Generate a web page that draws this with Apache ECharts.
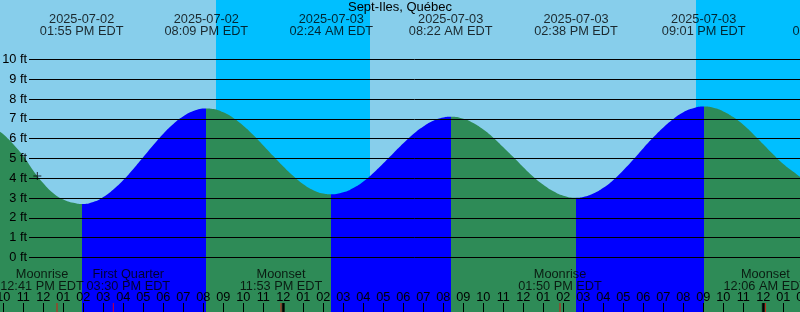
<!DOCTYPE html>
<html><head><meta charset="utf-8">
<script src="https://cdn.jsdelivr.net/npm/echarts@6/dist/echarts.min.js"></script>
<style>html,body{margin:0;padding:0;background:#87CEEB}#c{width:800px;height:312px}</style>
</head><body><div id="c"></div>
<script>
const stationName = 'Sept-Iles, Québec';
const baseTime = '2025-07-02 10:00';

const tideTimes = [
 '2025-07-02 09:50','2025-07-02 10:00','2025-07-02 10:30','2025-07-02 11:00','2025-07-02 11:30',
 '2025-07-02 12:00','2025-07-02 12:30','2025-07-02 13:00','2025-07-02 13:30','2025-07-02 13:55',
 '2025-07-02 14:30','2025-07-02 15:00','2025-07-02 15:30','2025-07-02 16:00','2025-07-02 16:30',
 '2025-07-02 17:00','2025-07-02 17:30','2025-07-02 18:00','2025-07-02 18:30','2025-07-02 19:00',
 '2025-07-02 19:30','2025-07-02 20:09','2025-07-02 20:30','2025-07-02 21:00','2025-07-02 21:30',
 '2025-07-02 22:00','2025-07-02 22:30','2025-07-02 23:00','2025-07-02 23:30','2025-07-03 00:00',
 '2025-07-03 00:30','2025-07-03 01:00','2025-07-03 01:30','2025-07-03 02:00','2025-07-03 02:24',
 '2025-07-03 03:00','2025-07-03 03:30','2025-07-03 04:00','2025-07-03 04:30','2025-07-03 05:00',
 '2025-07-03 05:30','2025-07-03 06:00','2025-07-03 06:30','2025-07-03 07:00','2025-07-03 07:30',
 '2025-07-03 08:00','2025-07-03 08:22','2025-07-03 09:00','2025-07-03 09:30','2025-07-03 10:00',
 '2025-07-03 10:30','2025-07-03 11:00','2025-07-03 11:30','2025-07-03 12:00','2025-07-03 12:30',
 '2025-07-03 13:00','2025-07-03 13:30','2025-07-03 14:00','2025-07-03 14:38','2025-07-03 15:00',
 '2025-07-03 15:30','2025-07-03 16:00','2025-07-03 16:30','2025-07-03 17:00','2025-07-03 17:30',
 '2025-07-03 18:00','2025-07-03 18:30','2025-07-03 19:00','2025-07-03 19:30','2025-07-03 20:00',
 '2025-07-03 20:30','2025-07-03 21:01','2025-07-03 21:30','2025-07-03 22:00','2025-07-03 22:30',
 '2025-07-03 23:00','2025-07-03 23:30','2025-07-04 00:00','2025-07-04 00:30','2025-07-04 01:00',
 '2025-07-04 01:30','2025-07-04 02:00'
];
const tideFeet = [
 6.35,6.22,5.72,5.12,4.38,
 3.75,3.25,2.93,2.76,2.70,
 2.80,3.05,3.43,3.91,4.47,
 5.07,5.68,6.25,6.74,7.13,
 7.40,7.53,7.50,7.33,7.05,
 6.66,6.19,5.66,5.12,4.59,
 4.11,3.70,3.40,3.23,3.19,
 3.29,3.51,3.84,4.27,4.76,
 5.27,5.77,6.24,6.62,6.91,
 7.07,7.11,7.01,6.79,6.46,
 6.05,5.57,5.07,4.56,4.08,
 3.67,3.34,3.12,3.02,3.06,
 3.23,3.52,3.92,4.41,4.95,
 5.52,6.07,6.57,7.00,7.34,
 7.54,7.62,7.56,7.38,7.09,
 6.70,6.23,5.72,5.20,4.72,
 4.33,3.95
];

const extremeTimes = ['2025-07-02 13:55','2025-07-02 20:09','2025-07-03 02:24','2025-07-03 08:22','2025-07-03 14:38','2025-07-03 21:01','2025-07-04 03:33'];
const extremeKinds = ['low','high','low','high','low','high','low'];

const nightStarts = ['2025-07-02 20:38','2025-07-03 20:38'];
const nightEnds   = ['2025-07-03 04:20','2025-07-04 04:20'];

const moonTimes = ['2025-07-02 12:41','2025-07-02 15:30','2025-07-02 23:53','2025-07-03 13:50','2025-07-04 00:06'];
const moonNames = ['Moonrise','First Quarter','Moonset','Moonrise','Moonset'];

const midnightTimes = ['2025-07-03 00:00','2025-07-04 00:00'];
const nowMarker = ['2025-07-02 11:42', 4.12];

const heightMin = 0, heightMax = 10;

// ---- helpers ----
const t0 = Date.parse(baseTime.replace(' ', 'T'));
const toH = s => (Date.parse(s.replace(' ', 'T')) - t0) / 3600000;
const pad = n => (n < 10 ? '0' : '') + n;
const fmtTime = s => {
  const t = s.split(' ')[1].split(':').map(Number);
  const ap = t[0] >= 12 ? 'PM' : 'AM';
  const h12 = (t[0] % 12) || 12;
  return pad(h12) + ':' + pad(t[1]) + ' ' + ap + ' EDT';
};
const baseHour = Number(baseTime.split(' ')[1].split(':')[0]);

const X_MIN = -1, X_MAX = 41;
const Y_MIN = -2.7525, Y_MAX = 13.005;

const GREEN = '#2E8B57', BLUE = '#0000FF';
const FONT = 'Liberation Sans';
const FS = 12.75;

const exH = extremeTimes.map(toH);
const pieces = [];
pieces.push({ lt: exH[0], color: extremeKinds[0] === 'low' ? GREEN : BLUE });
for (let i = 1; i < exH.length; i++) {
  pieces.push({ gte: exH[i - 1], lt: exH[i], color: extremeKinds[i] === 'low' ? GREEN : BLUE });
}
pieces.push({ gte: exH[exH.length - 1], color: extremeKinds[exH.length - 1] === 'low' ? BLUE : GREEN });

const tideData = tideTimes.map((t, i) => [toH(t), tideFeet[i]]);
const nightAreas = nightStarts.map((s, i) => [{ xAxis: toH(s) }, { xAxis: toH(nightEnds[i]) }]);

const moonOffsets = [-15, 15, 0, 0, 0];

const chart = echarts.init(document.getElementById('c'), null, { renderer: 'canvas' });
chart.setOption({
  animation: false,
  backgroundColor: '#87CEEB',
  title: {
    text: stationName, left: 'center', top: 1, padding: 0,
    textStyle: { fontFamily: FONT, fontSize: 13, fontWeight: 'normal', color: '#000', lineHeight: 13 }
  },
  grid: [
    { left: -16.667, right: -23.333, top: 0, bottom: 0, containLabel: false, outerBoundsMode: 'none' },
    { left: 29, right: 0, top: 59.5, bottom: 54.5, containLabel: false, outerBoundsMode: 'none' }
  ],
  xAxis: [
    {
      type: 'value', gridIndex: 0, min: X_MIN, max: X_MAX, interval: 1, z: 10, position: 'bottom',
      axisLine: { show: false, onZero: false },
      splitLine: { show: false },
      axisTick: { show: true, inside: true, length: 9, lineStyle: { color: '#000', width: 1 } },
      axisLabel: {
        show: true, inside: true, margin: 8, interval: 0,
        fontFamily: FONT, fontSize: FS, color: '#000',
        formatter: v => { const hod = (((baseHour + v) % 24) + 24) % 24; return pad((hod % 12) || 12); }
      }
    },
    { type: 'value', gridIndex: 1, min: 0, max: 1, show: false, axisLine: { onZero: false } }
  ],
  yAxis: [
    { type: 'value', gridIndex: 0, min: Y_MIN, max: Y_MAX, show: false, axisLine: { onZero: false } },
    {
      type: 'value', gridIndex: 1, min: heightMin, max: heightMax, interval: 1, z: 10,
      axisLine: { show: false, onZero: false }, axisTick: { show: false },
      splitLine: { show: true, lineStyle: { color: '#000', width: 1 } },
      axisLabel: { margin: 2, fontFamily: FONT, fontSize: FS, color: '#000', formatter: '{value} ft' }
    }
  ],
  visualMap: {
    type: 'piecewise', show: false, dimension: 0, seriesIndex: 1, pieces: pieces
  },
  series: [
    {
      type: 'line', xAxisIndex: 0, yAxisIndex: 0, data: [], z: 1, silent: true,
      markArea: { silent: true, itemStyle: { color: '#00BFFF', opacity: 1 }, data: nightAreas }
    },
    {
      type: 'line', xAxisIndex: 0, yAxisIndex: 0, z: 2, data: tideData,
      smooth: true, symbol: 'none', silent: true,
      lineStyle: { width: 0, opacity: 0 },
      areaStyle: { origin: 'start', opacity: 1 }
    },
    {
      type: 'scatter', xAxisIndex: 0, yAxisIndex: 0, z: 10, clip: false, silent: true,
      symbolSize: 1, itemStyle: { color: 'rgba(0,0,0,0)' },
      data: extremeTimes.map(t => ({ value: [toH(t), Y_MAX], name: t })),
      label: {
        show: true, position: 'inside', offset: [0, 25.25],
        fontFamily: FONT, fontSize: FS, color: '#000', lineHeight: 12, align: 'center',
        formatter: p => p.name.split(' ')[0] + '\n' + fmtTime(p.name)
      }
    },
    {
      type: 'scatter', xAxisIndex: 0, yAxisIndex: 0, z: 10, clip: false, silent: true,
      symbol: 'rect', symbolSize: [1, 9], symbolOffset: [0, -4.5], itemStyle: { color: '#FF0000' },
      data: moonTimes.map((t, i) => ({
        value: [toH(t), Y_MIN], name: moonNames[i] + '\n' + fmtTime(t),
        label: { offset: [moonOffsets[i], -27] }
      })),
      label: {
        show: true, position: 'inside',
        fontFamily: FONT, fontSize: FS, color: '#000', lineHeight: 12.5, align: 'center',
        formatter: p => p.name
      }
    },
    {
      type: 'scatter', xAxisIndex: 0, yAxisIndex: 0, z: 11, silent: true,
      symbol: 'rect', symbolSize: [3, 9], symbolOffset: [0, -4.5], itemStyle: { color: '#000' },
      data: midnightTimes.map(t => [toH(t), Y_MIN])
    },
    {
      type: 'scatter', xAxisIndex: 0, yAxisIndex: 0, z: 11, silent: true,
      symbol: 'path://M3.5,0h1v8h-1z M0,3.5h8v1h-8z', symbolSize: 8, itemStyle: { color: '#000' },
      data: [[toH(nowMarker[0]), nowMarker[1]]]
    }
  ]
});
</script></body></html>
